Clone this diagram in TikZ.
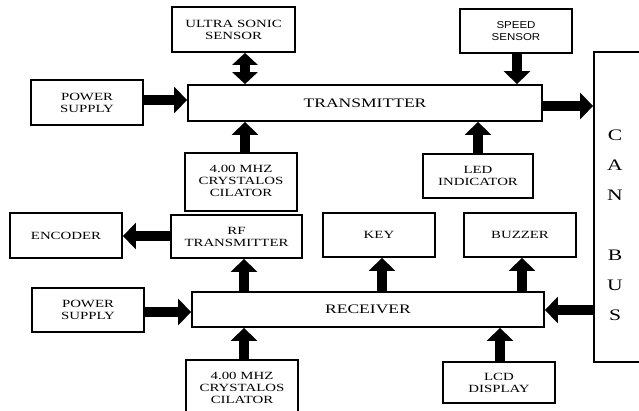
\documentclass[tikz,border=0pt]{standalone}
\usepackage{fontspec}
\usetikzlibrary{arrows.meta}
\newfontfamily\serwide[FakeStretch=1.35]{Liberation Serif}
\newfontfamily\sanswide[FakeStretch=1.15]{Liberation Sans}
\begin{document}
\begin{tikzpicture}[x=1pt,y=-1pt,
  blk/.style={draw=black, line width=1.8pt, inner sep=0pt, align=center,
    font=\serwide\fontsize{11}{12}\selectfont},
  fat/.style={line width=10pt, -{Triangle[length=13pt,width=26pt]}},
  fatboth/.style={line width=10pt, {Triangle[length=12pt,width=25pt]}-{Triangle[length=12pt,width=25pt]}}]
\useasboundingbox (0,0) rectangle (639,410);
% transmitter side
\node[blk, minimum width=123pt, minimum height=45pt] (us) at (233.5,29.5) {ULTRA SONIC\\SENSOR};
\node[blk, minimum width=112pt, minimum height=45pt] (ps1) at (87,102.5) {POWER\\SUPPLY};
\node[blk, minimum width=354pt, minimum height=36pt, font=\serwide\fontsize{13}{14}\selectfont] (tx) at (365,103) {TRANSMITTER};
\node[blk, minimum width=112pt, minimum height=58pt] (cr1) at (241,182) {\raisebox{5pt}{\begin{tabular}{@{}c@{}}4.00 MHZ\\CRYSTALOS\\CILATOR\end{tabular}}};
\node[blk, minimum width=112pt, minimum height=44pt, font=\sanswide\fontsize{10}{12}\selectfont] (sp) at (516,31) {SPEED\\SENSOR};
\node[blk, minimum width=110pt, minimum height=44pt] (led) at (478,176) {LED\\INDICATOR};
\node[blk, minimum width=56pt, minimum height=310pt] (can) at (622,207) {};
\node[align=center, inner sep=0pt, font=\serwide\fontsize{16}{30}\selectfont] (canlbl) at (615,225) {C\\A\\N\\[30pt]B\\U\\S};
% receiver side
\node[blk, minimum width=112pt, minimum height=45pt] (enc) at (66,235.5) {ENCODER};
\node[blk, minimum width=131pt, minimum height=43pt] (rf) at (236.5,236.5) {RF\\TRANSMITTER};
\node[blk, minimum width=112pt, minimum height=44pt] (ps2) at (88,310) {POWER\\SUPPLY};
\node[blk, minimum width=352pt, minimum height=35pt, font=\serwide\fontsize{13}{14}\selectfont] (rx) at (368,309.5) {RECEIVER};
\node[blk, minimum width=112pt, minimum height=58pt] (cr2) at (242,389) {\raisebox{5pt}{\begin{tabular}{@{}c@{}}4.00 MHZ\\CRYSTALOS\\CILATOR\end{tabular}}};
\node[blk, minimum width=112pt, minimum height=44pt] (key) at (379,235) {KEY};
\node[blk, minimum width=112pt, minimum height=44pt] (buz) at (520,235) {BUZZER};
\node[blk, minimum width=112pt, minimum height=41pt] (lcd) at (499,382.5) {LCD\\DISPLAY};
% arrows transmitter
\draw[fatboth] ([xshift=11.5pt]us.south) -- ([xshift=11.5pt]us.south |- tx.north);
\draw[fat] ([yshift=2.5pt]ps1.east) -- ([yshift=2.5pt]ps1.east -| tx.west);
\draw[fat] ([xshift=4pt]cr1.north) -- ([xshift=4pt]cr1.north |- tx.south);
\draw[fat] ([xshift=1pt]sp.south) -- ([xshift=1pt]sp.south |- tx.north);
\draw[fat] (led.north) -- (led.north |- tx.south);
\draw[fat] ([yshift=-3pt]tx.east) -- ([yshift=-3pt]tx.east -| can.west);
% arrows receiver
\draw[fat] ([yshift=0.5pt]rf.west) -- ([yshift=0.5pt]rf.west -| enc.east);
\draw[fat] ([xshift=7.5pt]rf.south |- rx.north) -- ([xshift=7.5pt]rf.south);
\draw[fat] ([yshift=-2pt]ps2.east) -- ([yshift=-2pt]ps2.east -| rx.west);
\draw[fat] ([xshift=2pt]cr2.north) -- ([xshift=2pt]cr2.north |- rx.south);
\draw[fat] ([xshift=3pt]key.south |- rx.north) -- ([xshift=3pt]key.south);
\draw[fat] ([xshift=2pt]buz.south |- rx.north) -- ([xshift=2pt]buz.south);
\draw[fat] (can.west |- 0,310) -- (rx.east |- 0,310);
\draw[fat] ([xshift=1pt]lcd.north) -- ([xshift=1pt]lcd.north |- rx.south);
\end{tikzpicture}
\end{document}
